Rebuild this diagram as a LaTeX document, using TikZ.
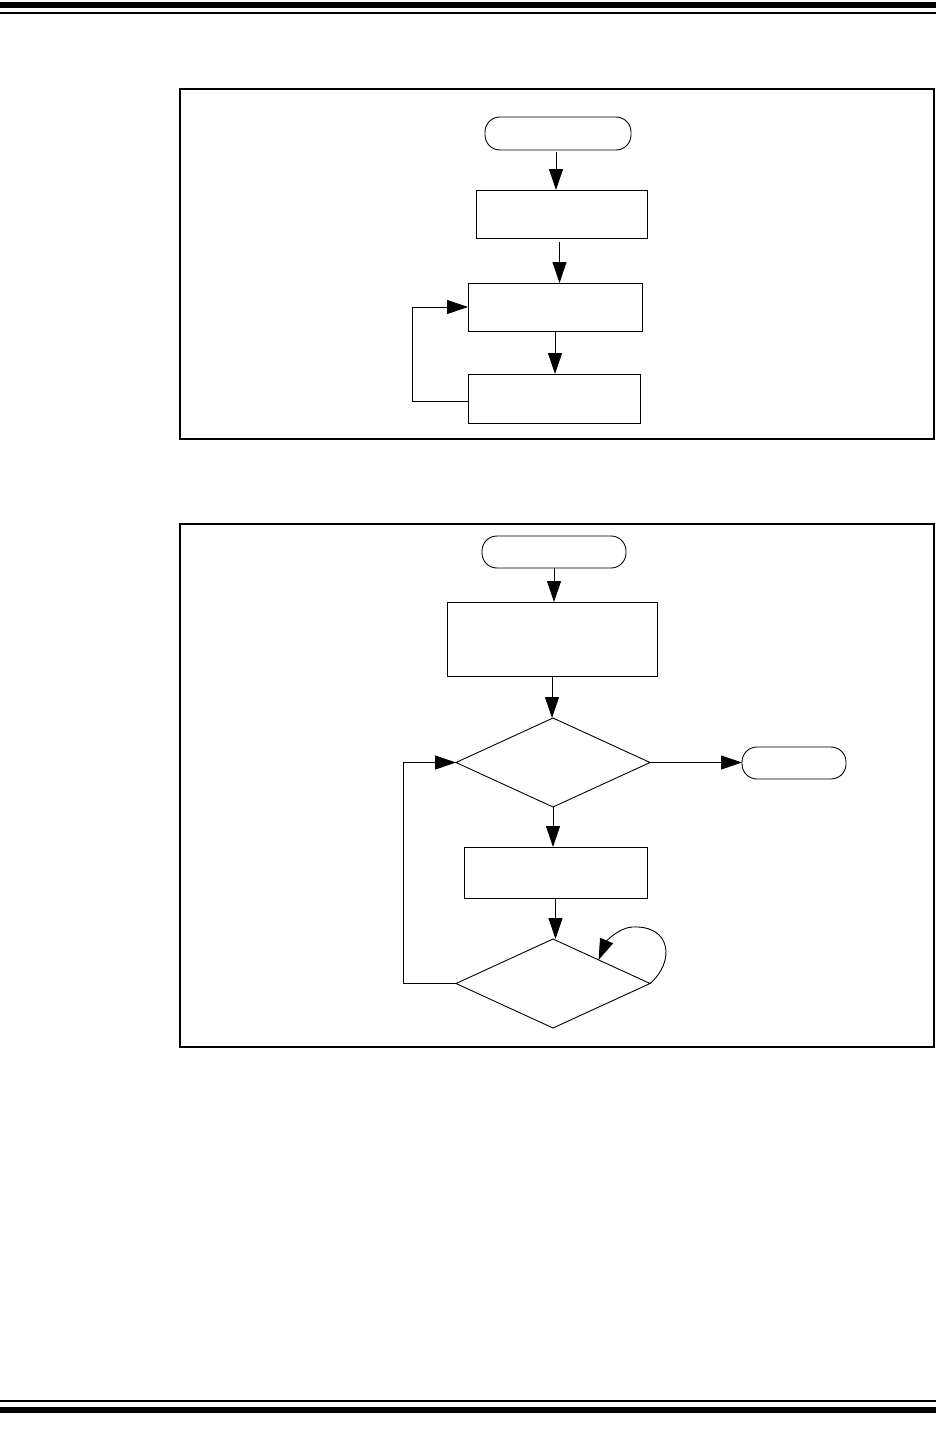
\documentclass[tikz,border=0pt]{standalone}
\usetikzlibrary{shapes.geometric,arrows.meta,calc}
\begin{document}
\begin{tikzpicture}[x=1pt,y=-1pt, line width=0.9pt,
  box/.style={draw, rectangle, inner sep=0pt, outer sep=0pt},
  term/.style={draw, rectangle, rounded corners=15pt, inner sep=0pt, outer sep=0pt},
  dec/.style={draw, diamond, inner sep=0pt, outer sep=0pt},
  arr/.style={-{Triangle[length=21pt,width=14pt]}},
  panel/.style={line width=1.5pt}]
\useasboundingbox (0,0) rectangle (936,1429);
% page rules
\fill (0,2) rectangle (936,8);
\fill (0,12) rectangle (936,14);
\fill (0,1400) rectangle (936,1402);
\fill (0,1407) rectangle (936,1413);
% panels
\draw[panel] (180,89) rectangle (934,439);
\draw[panel] (180,524) rectangle (934,1047);
% top flowchart
\node[term, minimum width=146pt, minimum height=33pt] (s1) at (558,133.5) {};
\node[box, minimum width=171pt, minimum height=48pt] (b1) at (561.5,214) {};
\node[box, minimum width=174pt, minimum height=48pt] (b2) at (555,307) {};
\node[box, minimum width=172pt, minimum height=49pt] (b3) at (554,398.5) {};
\draw[arr] ($(s1.south)+(-2,2)$) -- ($(s1.south |- b1.north)+(-2,0)$);
\draw[arr] ($(b1.south)+(-2,4)$) -- ($(b1.south |- b2.north)+(-2,0)$);
\draw[arr] (b2.south) -- (b2.south |- b3.north);
\draw[arr] ($(b3.west)+(0,3)$) -- ++(-56,0) |- (b2.west);
% bottom flowchart
\node[term, minimum width=144pt, minimum height=32pt] (s2) at (554,552) {};
\node[box, minimum width=210pt, minimum height=74pt] (c1) at (552,639) {};
\node[dec, minimum width=194pt, minimum height=89pt, aspect=2.18] (d1) at (553,762.5) {};
\node[term, minimum width=104pt, minimum height=32pt] (e1) at (794,763) {};
\node[box, minimum width=183pt, minimum height=51pt] (c2) at (555.5,872.5) {};
\node[dec, minimum width=194pt, minimum height=89pt, aspect=2.18] (d2) at (553,983.5) {};
\coordinate (lt) at ($(d2.north)!0.47!(d2.east)$);
\draw[arr] (s2.south) -- (s2.south |- c1.north);
\draw[arr] (c1.south) -- (c1.south |- d1.north);
\draw[arr] (d1.east) -- (d1.east -| e1.west);
\draw[arr] (d1.south) -- (d1.south |- c2.north);
\draw[arr] (c2.south) -- (c2.south |- d2.north);
\draw[arr] (d2.west) -- ++(-53,0) |- (d1.west);
\draw[arr] (d2.east) .. controls (675,962) and (672,925) .. (632,927)
  .. controls (618,928) and (606,942) .. (lt);
\end{tikzpicture}
\end{document}
